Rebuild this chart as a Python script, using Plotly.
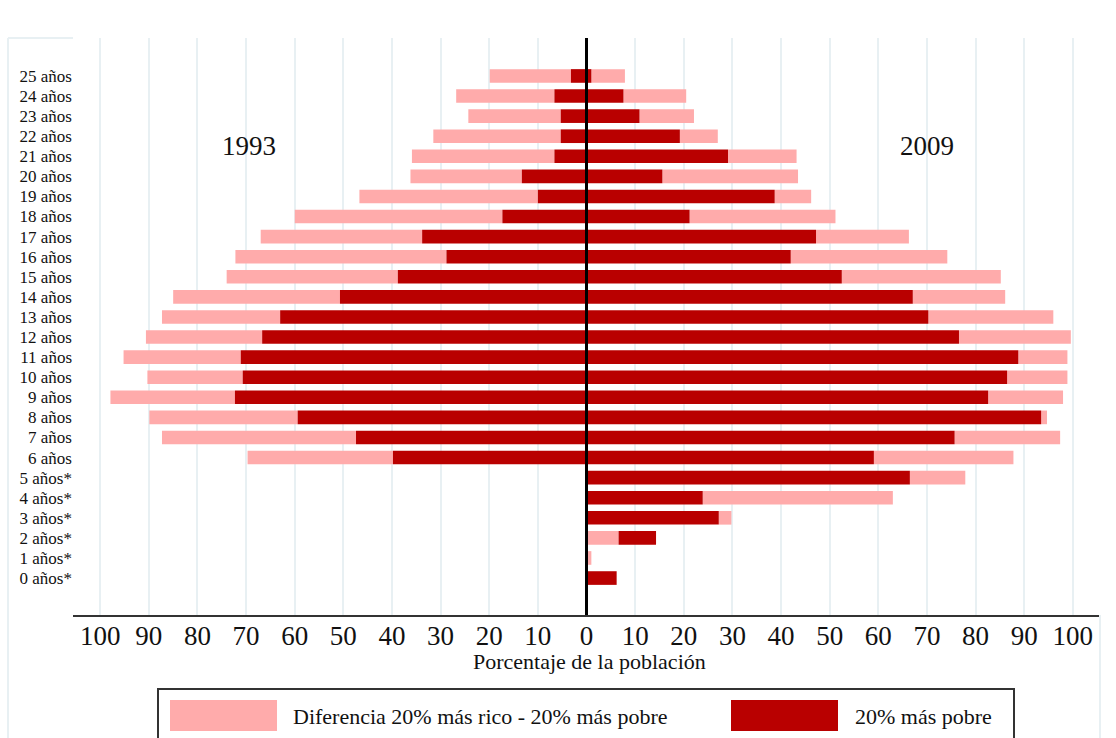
import plotly.graph_objects as go

# --- datos -------------------------------------------------------------
edades = list(range(26))  # 0..25
etiquetas = [f"{e} años*" if e <= 5 else f"{e} años" for e in edades]

# 1993: solo 6-25 años
edades_1993 = list(range(6, 26))
pobre_1993 = [39.8, 47.4, 59.4, 72.3, 70.7, 71.1, 66.7, 63.0, 50.7, 38.8,
              28.8, 33.8, 17.3, 10.0, 13.3, 6.6, 5.3, 5.3, 6.6, 3.2]
dif_1993 = [29.9, 39.9, 30.5, 25.6, 19.6, 24.1, 23.9, 24.3, 34.3, 35.2,
            43.4, 33.2, 42.7, 36.7, 22.9, 29.3, 26.2, 19.0, 20.2, 16.7]

# 2009: 0-25 años
edades_2009 = list(range(0, 26))
pobre_2009 = [6.2, 0.0, 14.3, 27.2, 23.9, 66.5, 59.1, 75.7, 93.5, 82.6,
              86.5, 88.8, 76.6, 70.3, 67.1, 52.5, 42.0, 47.2, 21.2, 38.7,
              15.6, 29.1, 19.2, 10.9, 7.6, 1.0]
dif_2009 = [0.0, 1.0, -6.6, 2.6, 39.1, 11.4, 28.7, 21.7, 1.2, 15.4,
            12.4, 10.1, 23.0, 25.7, 19.0, 32.7, 32.2, 19.1, 30.0, 7.5,
            27.9, 14.1, 7.8, 11.2, 12.9, 6.9]

ticks_x = list(range(-100, 101, 10))

ROSA = '#ffabab'
ROJO = '#b90000'
FUENTE = 'Liberation Serif'

# plot area in pixels (for placing legend / frame pieces)
L, R, T, B = 73, 1100, 38, 615


def px(x):
    return (x - L) / (R - L)


def py(y):
    return (B - y) / (B - T)


def _segmentos(pobre, dif, signo):
    # pink goes outside the dark bar; if the difference is negative
    # it is drawn from zero and the dark bar continues after it
    base_r, len_r, base_p, len_p = [], [], [], []
    for p, d in zip(pobre, dif):
        if d >= 0:
            base_r.append(0)
            len_r.append(p * signo)
            base_p.append(p * signo)
            len_p.append(d * signo)
        else:
            base_p.append(0)
            len_p.append(-d * signo)
            base_r.append(-d * signo)
            len_r.append((p + d) * signo)
    return base_r, len_r, base_p, len_p


fig = go.Figure()

for edad, pobre, dif, signo in [(edades_1993, pobre_1993, dif_1993, -1),
                                (edades_2009, pobre_2009, dif_2009, 1)]:
    base_r, len_r, base_p, len_p = _segmentos(pobre, dif, signo)
    fig.add_trace(go.Bar(
        y=edad, x=len_p, base=base_p, orientation='h',
        marker=dict(color=ROSA, line=dict(width=0)),
        width=0.68, showlegend=False, hoverinfo='skip'
    ))
    fig.add_trace(go.Bar(
        y=edad, x=len_r, base=base_r, orientation='h',
        marker=dict(color=ROJO, line=dict(width=0)),
        width=0.68, showlegend=False, hoverinfo='skip'
    ))

shapes = [
    # zero line
    dict(type='line', xref='x', yref='paper', x0=0, x1=0, y0=0, y1=1,
         line=dict(color='black', width=3), layer='above'),
    # light frame pieces
    dict(type='line', xref='paper', yref='paper', x0=px(8), x1=px(8),
         y0=py(38), y1=py(760), line=dict(color='#e8f0f3', width=2)),
    dict(type='line', xref='paper', yref='paper', x0=px(8), x1=px(73),
         y0=py(38), y1=py(38), line=dict(color='#e8f0f3', width=2)),
    dict(type='line', xref='paper', yref='paper', x0=px(1100), x1=px(1100),
         y0=py(615), y1=py(760), line=dict(color='#e8f0f3', width=2)),
    # legend box and swatches
    dict(type='rect', xref='paper', yref='paper', x0=px(158), x1=px(1014),
         y0=py(689), y1=py(760), line=dict(color='#333333', width=2)),
    dict(type='rect', xref='paper', yref='paper', x0=px(170), x1=px(277),
         y0=py(700), y1=py(731), fillcolor=ROSA, line=dict(width=0)),
    dict(type='rect', xref='paper', yref='paper', x0=px(731), x1=px(838),
         y0=py(700), y1=py(731), fillcolor=ROJO, line=dict(width=0)),
]

txt = dict(size=22, family=FUENTE, color='#111')
annotations = [
    dict(text='1993', x=-69.5, y=21.5, xref='x', yref='y', showarrow=False,
         font=dict(size=27, family=FUENTE, color='#111')),
    dict(text='2009', x=70, y=21.5, xref='x', yref='y', showarrow=False,
         font=dict(size=27, family=FUENTE, color='#111')),
    dict(text='Porcentaje de la población', x=px(589), y=py(661),
         xref='paper', yref='paper', xanchor='center', yanchor='middle',
         showarrow=False, font=txt),
    dict(text='Diferencia 20% más rico - 20% más pobre', x=px(291),
         y=py(716), xref='paper', yref='paper', xanchor='left',
         yanchor='middle', showarrow=False, font=txt),
    dict(text='20% más pobre', x=px(853), y=py(716), xref='paper',
         yref='paper', xanchor='left', yanchor='middle', showarrow=False,
         font=txt),
]

fig.update_layout(
    width=1116, height=738,
    barmode='overlay',
    paper_bgcolor='white', plot_bgcolor='white',
    margin=dict(l=L, r=1116 - R, t=T, b=738 - B, pad=0),
    font=dict(family=FUENTE, color='#111'),
    shapes=shapes,
    annotations=annotations,
    xaxis=dict(
        range=[-105.6, 105.6],
        tickvals=ticks_x,
        ticktext=[str(abs(v)) for v in ticks_x],
        tickfont=dict(size=27, family=FUENTE, color='#111'),
        ticklabelstandoff=-4,
        showgrid=True, gridcolor='#e8f0f3', gridwidth=2,
        zeroline=False,
        showline=True, linecolor='#333333', linewidth=2,
        ticks='',
    ),
    yaxis=dict(
        range=[-1.84, 26.89],
        tickvals=edades,
        ticktext=etiquetas,
        tickfont=dict(size=17, family=FUENTE, color='#111'),
        showgrid=False, zeroline=False, showline=False,
        ticks='',
    ),
)

# drop the default 8px page margin so the figure sits at the window corner
fig.write_html("out.html", config={'displayModeBar': False},
               post_script="document.body.style.margin='0px';")
